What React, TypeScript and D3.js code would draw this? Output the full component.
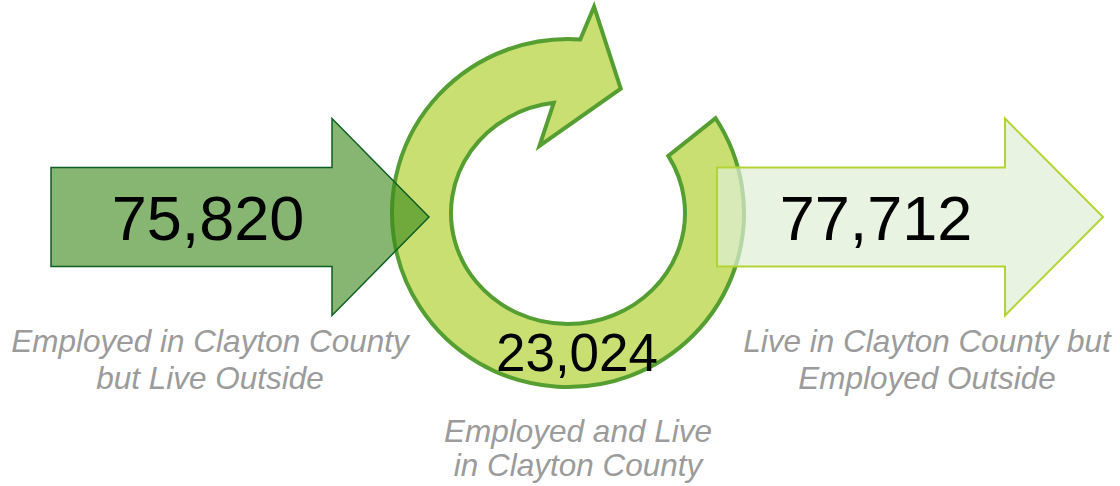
import React, { useRef, useEffect } from 'react';
import * as d3 from 'd3';

// commuting flows for Clayton County
const flowKeys = ['inflow', 'internal', 'outflow'];
const flowValues = [75820, 23024, 77712];
const flowLabels = [
  ['Employed in Clayton County', 'but Live Outside'],
  ['Employed and Live', 'in Clayton County'],
  ['Live in Clayton County but', 'Employed Outside'],
];

const WIDTH = 1120;
const HEIGHT = 486;

const App: React.FC = () => {
  const svgRef = useRef<SVGSVGElement>(null);

  useEffect(() => {
    if (!svgRef.current) return;
    const svg = d3.select(svgRef.current);
    svg.selectAll('*').remove();

    const fmt = d3.format(',');

    // ring geometry (ellipses around a shared centre)
    const cx = 568;
    const cy = 213;
    const outer = { rx: 176, ry: 174 };
    const inner = { rx: 117, ry: 111 };
    const rad = (deg: number) => (deg * Math.PI) / 180;
    const onEllipse = (deg: number, e: { rx: number; ry: number }) =>
      [cx + e.rx * Math.cos(rad(deg)), cy + e.ry * Math.sin(rad(deg))] as [number, number];
    const polar = (deg: number, r: number) =>
      [cx + r * Math.cos(rad(deg)), cy + r * Math.sin(rad(deg))] as [number, number];

    const o0 = onEllipse(-33, outer);
    const o1 = onEllipse(274, outer);
    const i0 = onEllipse(-31, inner);
    const i1 = onEllipse(263, inner);
    const barbOut = polar(-82.8, 208);
    const tip = polar(-67, 135);
    const barbIn = polar(-113, 73);

    // d3.path has no elliptical arc, so the arcs are written as SVG commands
    const ringD =
      `M${o0[0]},${o0[1]}` +
      `A${outer.rx},${outer.ry} 0 1 1 ${o1[0]},${o1[1]}` +
      `L${barbOut[0]},${barbOut[1]}` +
      `L${tip[0]},${tip[1]}` +
      `L${barbIn[0]},${barbIn[1]}` +
      `L${i1[0]},${i1[1]}` +
      `A${inner.rx},${inner.ry} 0 1 0 ${i0[0]},${i0[1]}Z`;

    svg.append('path')
      .attr('d', ringD)
      .attr('fill', '#c9df72')
      .attr('stroke', '#559e32')
      .attr('stroke-width', 4)
      .attr('stroke-linejoin', 'miter');

    // block arrows
    const arrow = (x0: number, headX: number, tipX: number, midY: number, shaftH: number, headH: number) =>
      d3.line()([
        [x0, midY - shaftH / 2],
        [headX, midY - shaftH / 2],
        [headX, midY - headH / 2],
        [tipX, midY],
        [headX, midY + headH / 2],
        [headX, midY + shaftH / 2],
        [x0, midY + shaftH / 2],
      ]) + 'Z';

    svg.append('path')
      .attr('d', arrow(51, 332, 429, 217, 99, 197))
      .attr('fill', 'rgb(60,137,27)')
      .attr('fill-opacity', 0.62)
      .attr('stroke', '#0f5e24')
      .attr('stroke-width', 1.5);

    svg.append('path')
      .attr('d', arrow(717, 1005, 1103, 217, 99, 197))
      .attr('fill', 'rgb(222,238,213)')
      .attr('fill-opacity', 0.7)
      .attr('stroke', '#b3d335')
      .attr('stroke-width', 2);

    // values and captions
    const valuePos: Record<string, { x: number; y: number; size: number }> = {
      inflow: { x: 208, y: 240, size: 63 },
      internal: { x: 577, y: 371, size: 53 },
      outflow: { x: 876, y: 240, size: 63 },
    };
    const labelPos: Record<string, { x: number; y: number; gap: number }> = {
      inflow: { x: 210, y: 352, gap: 37 },
      internal: { x: 578, y: 442, gap: 34 },
      outflow: { x: 927, y: 352, gap: 37 },
    };

    flowKeys.forEach((key, i) => {
      const p = valuePos[key];
      svg.append('text')
        .attr('x', p.x)
        .attr('y', p.y)
        .attr('text-anchor', 'middle')
        .attr('font-family', '"Liberation Sans", Arial, sans-serif')
        .attr('font-size', p.size)
        .attr('fill', '#000')
        .text(fmt(flowValues[i]));

      const l = labelPos[key];
      flowLabels[i].forEach((line, j) => {
        svg.append('text')
          .attr('x', l.x)
          .attr('y', l.y + j * l.gap)
          .attr('text-anchor', 'middle')
          .attr('font-family', '"Liberation Sans", Arial, sans-serif')
          .attr('font-style', 'italic')
          .attr('font-size', 31.5)
          .attr('fill', '#9b9b9b')
          .text(line);
      });
    });
  }, []);

  return (
    <svg
      ref={svgRef}
      width={WIDTH}
      height={HEIGHT}
      style={{ position: 'absolute', left: 0, top: 0, background: '#fff' }}
    />
  );
};

export default App;
